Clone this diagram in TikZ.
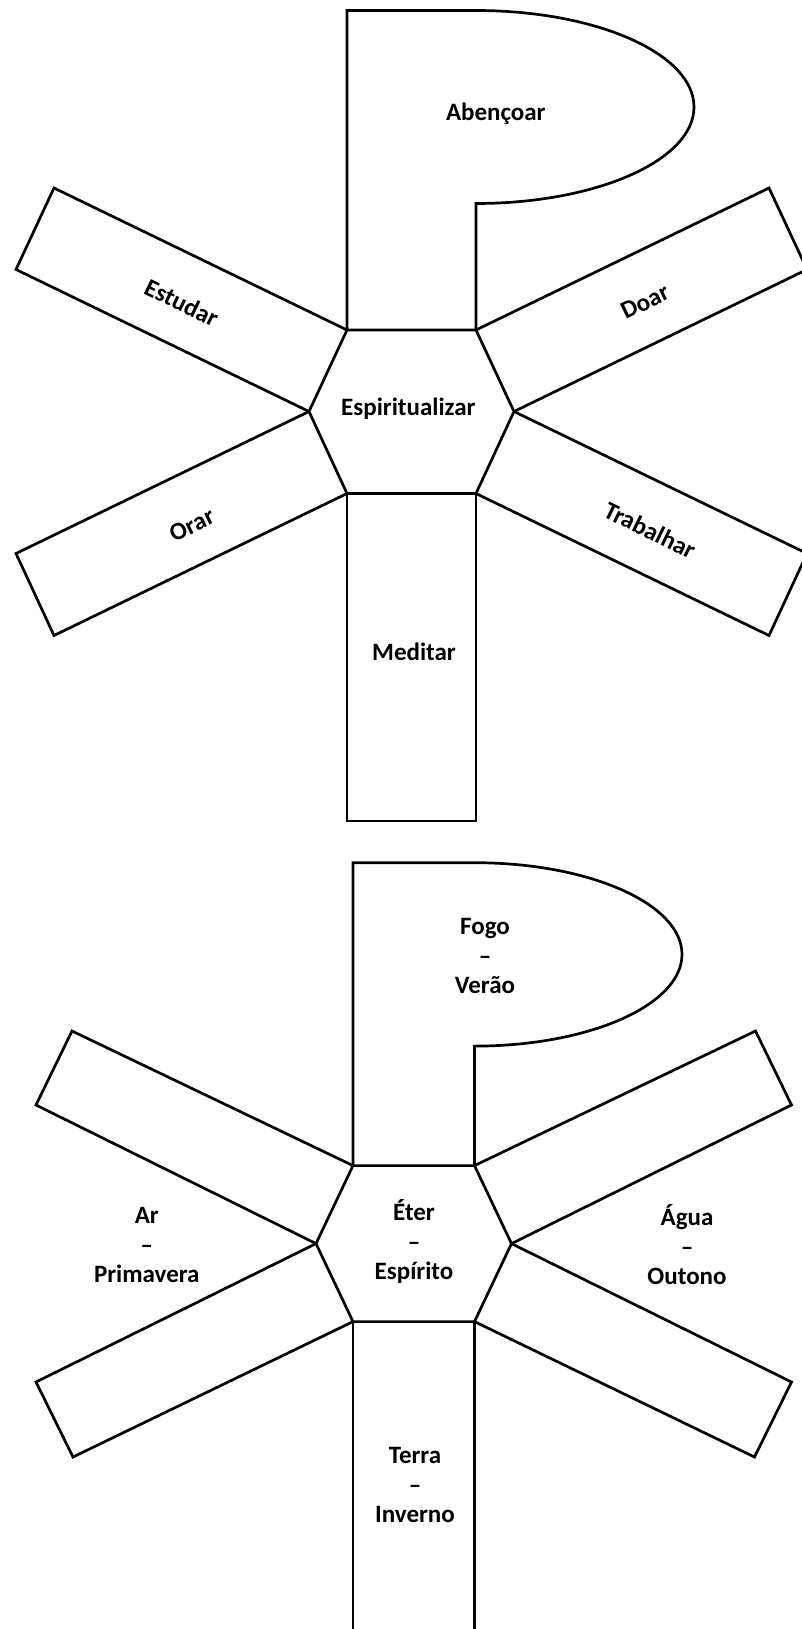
\documentclass[tikz,border=0pt]{standalone}
\usepackage{fontspec}
\setmainfont{Carlito}
\begin{document}
\begin{tikzpicture}[x=1pt,y=-1pt,
  shapeline/.style={draw=black,line width=2.7pt,line join=miter},
  lbl/.style={font=\fontsize{25}{29.5}\selectfont\bfseries,align=center,inner sep=0pt,text=black}]
\useasboundingbox (0,0) rectangle (802,1629);
\fill[white] (0,0) rectangle (802,1629);
\clip (0,0) rectangle (802,1629);
% ---------- top figure ----------
\coordinate (t1) at (347,330);
\coordinate (t2) at (476,330);
\coordinate (tr) at (514,411.5);
\coordinate (tb2) at (476,493.5);
\coordinate (tb1) at (347,493.5);
\coordinate (tl) at (309,411.5);
% stem with bowl
\draw[shapeline] (t1) -- (347,10.5) -- (476,10.5)
  .. controls (596.4,10.5) and (694,53.7) .. (694,107)
  .. controls (694,160.3) and (596.4,203.5) .. (476,203.5) -- (t2);
% arms
\draw[shapeline] (t1) -- (54,188) -- (16,269.5) -- (tl);
\draw[shapeline] (t2) -- (769,188) -- (807,269.5) -- (tr);
\draw[shapeline] (tl) -- (16,553.5) -- (54,635.5) -- (tb1);
\draw[shapeline] (tr) -- (807,553.5) -- (769,635.5) -- (tb2);
% bottom bar
\draw[shapeline] (tb1) -- (347,821) -- (476,821) -- (tb2);
% hexagon
\draw[shapeline] (t1) -- (t2) -- (tr) -- (tb2) -- (tb1) -- (tl) -- cycle;
% labels
\node[lbl,anchor=base] (abencoar) at (495.8,120.7) {Abençoar};
\node[lbl,anchor=base] (espirit) at (408.3,415.7) {Espiritualizar};
\node[lbl,anchor=base] (meditar) at (414,660.5) {Meditar};
\node[lbl,rotate=-26] (estudar) at (181.7,302.5) {Estudar};
\node[lbl,rotate=26] (doar) at (645,301.7) {Doar};
\node[lbl,rotate=26] (orar) at (191.8,525) {Orar};
\node[lbl,rotate=-26] (trabalhar) at (650,530) {Trabalhar};
% ---------- bottom figure ----------
\coordinate (b1) at (353,1165.6);
\coordinate (b2) at (474.5,1165.6);
\coordinate (br) at (511.5,1243.6);
\coordinate (bb2) at (474.5,1321.6);
\coordinate (bb1) at (353,1321.6);
\coordinate (bl) at (316,1243.6);
\draw[shapeline] (b1) -- (353,862.7) -- (474.5,862.7)
  .. controls (589.1,862.7) and (682,903.8) .. (682,954.4)
  .. controls (682,1005) and (589.1,1046.1) .. (474.5,1046.1) -- (b2);
\draw[shapeline] (b1) -- (72,1031) -- (36,1105) -- (bl);
\draw[shapeline] (b2) -- (755.5,1031) -- (791.5,1105) -- (br);
\draw[shapeline] (bl) -- (36,1382) -- (73,1457) -- (bb1);
\draw[shapeline] (br) -- (791.5,1382) -- (754.5,1457) -- (bb2);
\draw[shapeline] (bb1) -- (353,1645);
\draw[shapeline] (bb2) -- (474.5,1645);
\draw[shapeline] (b1) -- (b2) -- (br) -- (bb2) -- (bb1) -- (bl) -- cycle;
\node[lbl] (fogo) at (485,956) {Fogo\\–\\Verão};
\node[lbl] (eter) at (414,1241.7) {Éter\\–\\Espírito};
\node[lbl] (ar) at (146.8,1245) {Ar\\–\\Primavera};
\node[lbl] (agua) at (687,1245) {Água\\–\\Outono};
\node[lbl] (terra) at (415,1485) {Terra\\–\\Inverno};
\end{tikzpicture}
\end{document}
